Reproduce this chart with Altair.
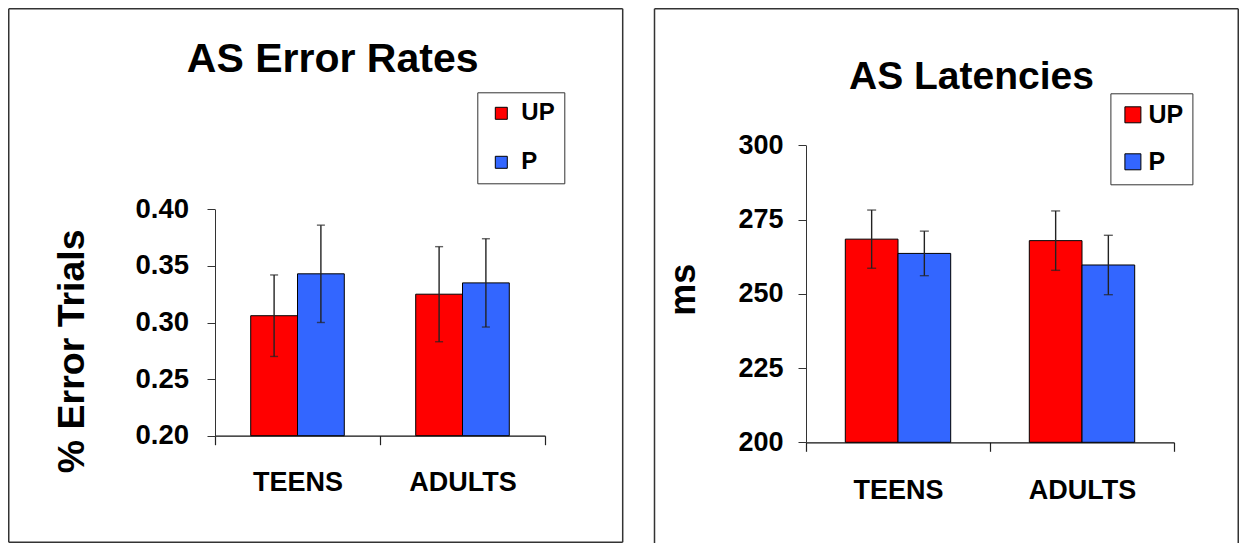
import altair as alt
import pandas as pd

# ---------------- data ----------------
groups = ["TEENS", "ADULTS"]
conds = ["UP", "P"]
cond_colors = ["#FF0000", "#3366FF"]

# order: TEENS-UP, TEENS-P, ADULTS-UP, ADULTS-P
err_mean = [0.306, 0.343, 0.325, 0.335]
err_sem = [0.036, 0.043, 0.042, 0.039]
err_ticks = [0.20, 0.25, 0.30, 0.35, 0.40]

lat_mean = [268.4, 263.6, 267.9, 259.7]
lat_sem = [9.8, 7.5, 10.0, 10.0]
lat_ticks = [200, 225, 250, 275, 300]

FONT = "Liberation Sans"
W, H = 1231, 535   # one view covering the page body (page offset 8px)
P = 8              # page margin: chart coords = page coords - 8


def table(means, sems):
    rows = []
    i = 0
    for g in groups:
        for c in conds:
            rows.append({"group": g, "cond": c, "mean": means[i],
                         "lo": means[i] - sems[i], "hi": means[i] + sems[i]})
            i += 1
    return pd.DataFrame(rows)


def panel(df, ticks, fmt, title_text, ytitle, g):
    xaxis = alt.Axis(title=None, orient="bottom", offset=g["yb"] - P - H, tickBand="extent",
                     tickSize=9, tickColor="#222", tickWidth=1.2, domainColor="#111",
                     domainWidth=1.3, labelFont=FONT, labelFontSize=27,
                     labelFontWeight="bold", labelColor="black", labelPadding=g["xlp"],
                     labelAngle=0, grid=False)
    xscale = alt.Scale(domain=groups, range=[g["xl"] - P, g["xr"] - P],
                       paddingInner=0, paddingOuter=0)
    xo = alt.XOffset("cond:N", sort=conds,
                     scale=alt.Scale(domain=conds, paddingInner=0, paddingOuter=g["po"]))
    yaxis = alt.Axis(title=ytitle, values=ticks, format=fmt, orient="left",
                     offset=-(g["xl"] - P), tickSize=8, tickColor="#333", tickWidth=1,
                     domainColor="#333", domainWidth=1, labelFont=FONT,
                     labelFontSize=g["ylfs"], labelFontWeight="bold", labelColor="black",
                     labelPadding=g["ylp"], grid=False, titleFont=FONT,
                     titleFontSize=g["tfs"], titleFontWeight="bold", titleColor="black",
                     titleAngle=270, titleAlign="center", titleBaseline="alphabetic",
                     titleX=g["tx"] - g["xl"], titleY=g["ty"] - P)
    yscale = alt.Scale(domain=[ticks[0], ticks[-1]], range=[g["yb"] - P, g["yt"] - P],
                       nice=False, zero=False)

    def X():
        return alt.X("group:N", sort=groups, scale=xscale, axis=xaxis)

    def Y(f):
        return alt.Y(f, scale=yscale, axis=yaxis)

    bars = alt.Chart(df).mark_bar(stroke="black", strokeWidth=1).encode(
        x=X(), xOffset=xo, y=Y("mean:Q"), y2=alt.datum(ticks[0]),
        color=alt.Color("cond:N", sort=conds,
                        scale=alt.Scale(domain=conds, range=cond_colors),
                        legend=alt.Legend(orient="none", legendX=g["lx"] - P,
                                          legendY=g["ly"] - P,
                                          title=None, symbolType="square",
                                          symbolSize=g["ss"], symbolStrokeColor="black",
                                          symbolStrokeWidth=1, symbolOpacity=1,
                                          labelFont=FONT, labelFontSize=g["lfs"],
                                          labelFontWeight="bold", labelColor="black",
                                          padding=g["lpad"], rowPadding=g["lrp"],
                                          symbolOffset=g["lso"], labelOffset=g["llo"],
                                          strokeColor="#333", fillColor="white",
                                          direction="vertical")))
    err = alt.Chart(df).mark_rule(color="#222", strokeWidth=1.4).encode(
        x=X(), xOffset=xo, y=Y("lo:Q"), y2="hi:Q")
    cap_hi = alt.Chart(df).mark_tick(color="#222", thickness=1.4, size=g["cap"]).encode(
        x=X(), xOffset=xo, y=Y("hi:Q"))
    cap_lo = alt.Chart(df).mark_tick(color="#222", thickness=1.4, size=g["cap"]).encode(
        x=X(), xOffset=xo, y=Y("lo:Q"))

    tdf = pd.DataFrame({"t": [title_text]})
    title = alt.Chart(tdf).mark_text(font=FONT, fontSize=g["titfs"], fontWeight="bold",
                                     color="black", align="center",
                                     baseline="alphabetic").encode(
        text="t:N", x=alt.value(g["titx"] - P), y=alt.value(g["tity"] - P))

    return alt.layer(bars, err, cap_hi, cap_lo, title)


left_geom = dict(
    xl=215, xr=545, yb=435.7, yt=209.3,
    xlp=25, ylp=18.4, ylfs=27.5, tfs=37.5, tx=83, ty=350.8,
    po=0.763, cap=8,
    lx=477.3, ly=92.3, ss=144, lfs=24, lpad=9, lrp=25, lso=3, llo=8,
    titx=332.7, tity=71.7, titfs=41,
)
right_geom = dict(
    xl=806, xr=1174, yb=442.3, yt=145.3,
    xlp=26.5, ylp=15, ylfs=27, tfs=36, tx=694.8, ty=289.3,
    po=0.746, cap=9,
    lx=1110.4, ly=93.3, ss=256, lfs=25, lpad=9, lrp=21, lso=1, llo=3,
    titx=971.5, tity=88.8, titfs=39,
)

left = panel(table(err_mean, err_sem), err_ticks, ".2f", "AS Error Rates",
             "% Error Trials", left_geom)
right = panel(table(lat_mean, lat_sem), lat_ticks, "d", "AS Latencies", "ms", right_geom)

# panel frames (page coordinates converted to chart coordinates)
one = pd.DataFrame({"a": [0]})
fc = dict(color="#333", strokeWidth=1.5)
L0, L1, T0, B0 = 0.75, 622.7 - P, 0.75, H - 0.75
R0, R1 = 654.5 - P, W - 0.75
frames = [
    # left panel: closed box
    alt.Chart(one).mark_rule(**fc).encode(x=alt.value(L0), x2=alt.value(L1), y=alt.value(T0)),
    alt.Chart(one).mark_rule(**fc).encode(x=alt.value(L0), x2=alt.value(L1), y=alt.value(B0)),
    alt.Chart(one).mark_rule(**fc).encode(x=alt.value(L0), y=alt.value(T0), y2=alt.value(B0)),
    alt.Chart(one).mark_rule(**fc).encode(x=alt.value(L1), y=alt.value(T0), y2=alt.value(B0)),
    # right panel: open at the bottom (runs off the page)
    alt.Chart(one).mark_rule(**fc).encode(x=alt.value(R0), x2=alt.value(R1), y=alt.value(T0)),
    alt.Chart(one).mark_rule(**fc).encode(x=alt.value(R0), y=alt.value(T0), y2=alt.value(H)),
    alt.Chart(one).mark_rule(**fc).encode(x=alt.value(R1), y=alt.value(T0), y2=alt.value(H)),
]

chart = alt.layer(left, right, *frames).resolve_scale(
    x="independent", y="independent", color="independent", xOffset="independent"
).resolve_legend(color="independent").properties(
    width=W, height=H, padding=0, background="white"
).configure_view(stroke="transparent", strokeWidth=0)

chart.save("out.html", embed_options={"renderer": "svg", "actions": False})
